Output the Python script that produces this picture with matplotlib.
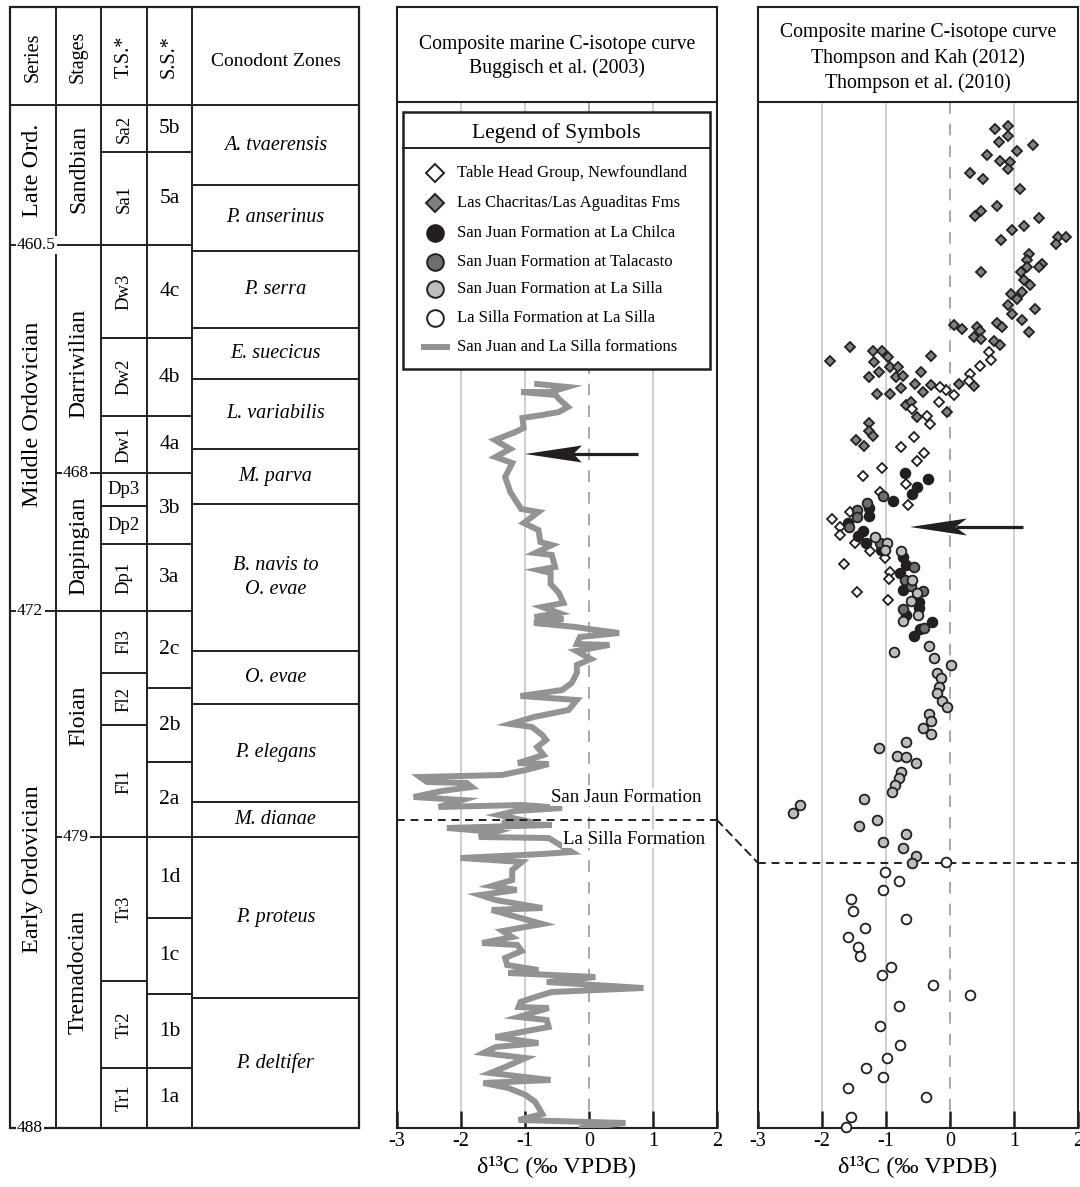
import matplotlib
matplotlib.use("Agg")
import matplotlib.pyplot as plt
from matplotlib.patches import Rectangle, Polygon, ConnectionPatch

plt.rcParams['font.family'] = ['Liberation Serif', 'DejaVu Serif']
plt.rcParams['axes.unicode_minus'] = False

# ---------------- data ----------------
# stratigraphic levels: 0 = top of table body, 1023 = base of the column
series = [("Late Ord.", 0, 140), ("Middle Ordovician", 140, 506), ("Early Ordovician", 506, 1023)]
stages = [("Sandbian", 0, 140), ("Darriwilian", 140, 368), ("Dapingian", 368, 506),
          ("Floian", 506, 732), ("Tremadocian", 732, 1023)]
time_slices = [("Sa2", 0, 47), ("Sa1", 47, 140), ("Dw3", 140, 233), ("Dw2", 233, 311),
               ("Dw1", 311, 368), ("Dp3", 368, 401), ("Dp2", 401, 439), ("Dp1", 439, 506),
               ("Fl3", 506, 568), ("Fl2", 568, 620), ("Fl1", 620, 732), ("Tr3", 732, 876),
               ("Tr2", 876, 963), ("Tr1", 963, 1023)]
stage_slices = [("5b", 0, 47), ("5a", 47, 140), ("4c", 140, 233), ("4b", 233, 311),
                ("4a", 311, 368), ("3b", 368, 439), ("3a", 439, 506), ("2c", 506, 583),
                ("2b", 583, 657), ("2a", 657, 732), ("1d", 732, 813), ("1c", 813, 889),
                ("1b", 889, 963), ("1a", 963, 1023)]
zones = [("A. tvaerensis", 0, 80), ("P. anserinus", 80, 146), ("P. serra", 146, 223),
         ("E. suecicus", 223, 274), ("L. variabilis", 274, 344), ("M. parva", 344, 399),
         ("B. navis to\nO. evae", 399, 546), ("O. evae", 546, 599), ("P. elegans", 599, 697),
         ("M. dianae", 697, 732), ("P. proteus", 732, 893), ("P. deltifer", 893, 1023)]
age_ticks = [460.5, 468, 472, 479, 488]
age_levels = [140, 368, 506, 732, 1023]
age_cols = [0, 1, 0, 1, 0]

# Buggisch et al. (2003) composite curve
curve_d13c = [-0.81, -0.34, -0.60, -1.06, -0.52, -0.47, -0.33, -0.47, -0.73, -1.04, -1.02, -1.15,
              -1.47, -1.23, -1.46, -1.20, -1.31, -1.23, -1.06, -0.79, -1.02, -0.79, -0.76, -0.58,
              -0.84, -0.58, -0.53, -0.79, -0.60, -0.60, -0.47, -0.40, -0.73, -0.47, -0.85, -0.40,
              -0.86, -0.21, 0.0, 0.47, -0.14, -0.19, 0.32, -0.20, 0.03, -0.19, -0.19, -0.27,
              -0.42, -1.07, -0.19, -0.32, -0.86, -1.23, -0.89, -0.73, -0.67, -0.81, -0.71, -1.11,
              -0.63, -0.99, -1.36, -2.64, -2.53, -1.91, -1.83, -2.30, -2.74, -1.98, -2.35, -1.05,
              -0.42, -1.15, -1.41, -1.05, -1.36, -0.58, -2.22, -1.46, -1.72, -0.63, -0.27, -0.73,
              -2.01, -1.05, -1.20, -1.20, -1.52, -1.13, -1.70, -1.46, -0.73, -1.52, -0.73, -1.35,
              -1.20, -1.67, -1.12, -1.05, -1.31, -1.28, -0.79, -1.26, 0.10, -0.66, 0.85, -0.58,
              -0.84, -1.07, -1.10, -0.63, -1.10, -0.66, -0.63, -0.97, -1.46, -0.79, -1.46, -1.65,
              -0.99, -1.31, -1.54, -0.60, -1.65, -1.26, -0.99, -0.84, -0.73, -1.10, 0.57, -0.11]
curve_level = [279, 282, 287, 287, 290, 294, 302, 307, 310, 313, 323, 327,
               335, 344, 352, 358, 372, 387, 404, 407, 418, 425, 437, 440,
               448, 450, 462, 465, 468, 479, 488, 498, 502, 508, 512, 514,
               518, 522, 524, 528, 532, 539, 540, 546, 554, 560, 568, 578,
               585, 591, 595, 605, 612, 619, 622, 630, 635, 642, 650, 658,
               659, 665, 670, 672, 677, 678, 682, 686, 692, 695, 702, 700,
               703, 706, 710, 715, 718, 720, 723, 727, 732, 733, 747, 749,
               753, 757, 765, 775, 781, 785, 790, 795, 803, 805, 819, 826,
               832, 838, 840, 846, 853, 860, 865, 868, 872, 877, 883, 887,
               892, 897, 902, 903, 912, 915, 922, 926, 932, 938, 942, 948,
               953, 962, 968, 975, 978, 983, 990, 997, 1009, 1015, 1018, 1023]

# Thompson and Kah (2012); Thompson et al. (2010)
lc_d13c = [0.70, 0.90, 0.77, 0.90, 1.04, 1.29, 0.58, 0.78, 0.94, 0.91, 0.32, 0.51, 1.10, 0.74,
           0.39, 0.48, 1.39, 0.97, 1.16, 0.79, 1.69, 1.82, 1.65, 1.23, 1.21, 1.44, 1.39, 1.11,
           1.20, 0.48, 1.16, 1.25, 1.13, 0.95, 1.05, 0.90, 0.97, 1.33, 1.12, 1.23, 0.07, 0.19,
           0.42, 0.47, 0.38, 0.48, 0.73, 0.82, 0.68, 0.78, -1.57, -1.88, -1.20, -1.06, -1.19,
           -0.97, -0.93, -0.81, -1.26, -1.11, -0.85, -0.74, -0.46, -0.30, -0.55, -0.30, -0.77,
           -0.94, -1.14, -0.42, 0.14, 0.38, -0.69, -0.61, -0.51, -0.05, -1.26, -1.27, -1.20,
           -1.47, -1.34]
lc_level = [24, 21, 37, 31, 46, 40, 50, 56, 57, 64, 68, 74, 84, 101,
            111, 106, 113, 125, 121, 135, 132, 132, 139, 149, 155, 159, 162, 167,
            162, 167, 175, 180, 187, 189, 194, 200, 209, 204, 215, 227, 220, 224,
            222, 226, 232, 234, 218, 222, 236, 240, 242, 256, 246, 246, 257,
            252, 262, 262, 272, 267, 272, 271, 267, 251, 279, 280, 283,
            289, 289, 287, 279, 281, 300, 297, 312, 307, 318, 326, 331,
            335, 341]
th_d13c = [0.61, 0.64, 0.47, 0.32, 0.30, 0.06, -0.07, -0.16, -0.17, -0.59, -0.36, -0.32, -0.56,
           -0.77, -0.40, -0.51, -1.06, -1.36, -0.69, -1.09, -0.66, -1.57, -1.85, -1.72, -1.72,
           -1.49, -1.25, -1.02, -1.65, -0.93, -0.96, -1.46, -0.97]
th_level = [247, 255, 261, 269, 276, 290, 285, 282, 297, 304, 311, 319, 332,
            342, 348, 356, 363, 371, 379, 387, 400, 407, 414, 422, 430,
            438, 446, 453, 459, 467, 474, 487, 495]
chilca_d13c = [-0.71, -0.34, -0.51, -0.60, -0.89, -1.27, -1.27, -1.59, -1.36, -1.44, -1.31,
               -1.08, -0.73, -0.69, -0.78, -0.73, -0.49, -0.48, -0.69, -0.28, -0.47, -0.56]
chilca_level = [368, 374, 382, 389, 396, 403, 411, 418, 426, 431, 438,
                445, 452, 460, 468, 485, 497, 503, 510, 517, 524, 531]
talacasto_d13c = [-1.04, -1.29, -1.46, -1.46, -1.58, -1.09, -0.57, -0.71, -0.61, -0.42, -0.73, -0.40]
talacasto_level = [391, 398, 405, 412, 422, 438, 462, 475, 481, 486, 504, 523]
sj_silla_d13c = [-1.17, -0.98, -1.02, -0.76, -0.60, -0.51, -0.61, -0.50, -0.73, -0.33, -0.88,
                 -0.25, 0.01, -0.21, -0.14, -0.17, -0.21, -0.12, -0.04, -0.33, -0.30, -0.42,
                 -0.30, -0.69, -1.11, -0.83, -0.69, -0.53, -0.76, -0.80, -0.86, -0.91, -1.34,
                 -2.34, -2.46, -1.14, -1.42, -0.69, -1.04, -0.73, -0.53, -0.60]
sj_silla_level = [432, 438, 445, 446, 475, 488, 496, 510, 516, 541, 547,
                  553, 560, 568, 573, 582, 588, 596, 602, 609, 616, 623,
                  629, 637, 643, 651, 652, 658, 667, 673, 680, 687, 694,
                  700, 708, 715, 721, 729, 737, 743, 751, 758]
ls_silla_d13c = [-0.06, -1.02, -0.80, -1.05, -1.54, -1.52, -0.69, -1.33, -1.59, -1.44, -1.41,
                 -0.92, -1.06, -0.27, 0.32, -0.79, -1.09, -0.78, -0.98, -1.32, -1.04, -1.59,
                 -0.38, -1.54, -1.63]
ls_silla_level = [757, 767, 776, 785, 794, 806, 814, 823, 832, 842, 851,
                  862, 870, 880, 890, 901, 921, 940, 953, 963, 972, 983,
                  992, 1012, 1022]

boundary_mid = 715     # San Juan / La Silla contact, Buggisch curve
boundary_right = 758   # same contact in the Thompson compilation

# ---------------- figure ----------------
W, H = 1080, 1187
fig = plt.figure(figsize=(W / 100, H / 100), dpi=100)
TOP, BASE, HEAD = -98, 1023, -3
INK = '#231f20'
C_CURVE = '#939393'
C_DIAM = '#808080'
C_DARK = '#6e6e6e'
C_LIGHT = '#bdbdbd'


def px_axes(x0, y0, x1, y1):
    return fig.add_axes([x0 / W, 1 - y1 / H, (x1 - x0) / W, (y1 - y0) / H])


# ---- stratigraphic table ----
ax_t = px_axes(10, 7, 359, 1128)
ax_t.set_xlim(0, 349)
ax_t.set_ylim(BASE, TOP)
ax_t.axis('off')
col_x = [0, 46, 91, 137, 182, 349]
LW = 1.4
ax_t.add_patch(Rectangle((0, TOP), 349, BASE - TOP, fill=False, lw=1.6, ec=INK, clip_on=False))
for x in col_x[1:-1]:
    ax_t.plot([x, x], [TOP, BASE], color=INK, lw=LW)
ax_t.plot([0, 349], [0, 0], color=INK, lw=LW)

headers = ["Series", "Stages", "T.S.*", "S.S.*"]
for i, h in enumerate(headers):
    ax_t.text((col_x[i] + col_x[i + 1]) / 2, -48, h, rotation=90, ha='center', va='center',
              fontsize=14.5)
ax_t.text((col_x[4] + col_x[5]) / 2, -43, "Conodont Zones", ha='center', va='center', fontsize=14)


def draw_column(units, c, size, style='normal', rotate=True, shift=None):
    x0, x1 = col_x[c], col_x[c + 1]
    for i, (name, top, bot) in enumerate(units):
        ax_t.plot([x0, x1], [bot, bot], color=INK, lw=LW)
        rot = 90 if rotate and (bot - top) > 45 else 0
        dy = shift[i] if shift else 0
        ax_t.text((x0 + x1) / 2, (top + bot) / 2 + dy, name, rotation=rot, ha='center',
                  va='center', fontsize=size, fontstyle=style, linespacing=1.35)


draw_column(series, 0, 17.5, shift=[-5, -14, 0])
draw_column(stages, 1, 17, shift=[-6, 4, 4, -8, -10])
draw_column(time_slices, 2, 13.5)
draw_column(stage_slices, 3, 15.5, rotate=False)
draw_column(zones, 4, 14.5, style='italic', rotate=False)

for age, lvl, c in zip(age_ticks, age_levels, age_cols):
    ax_t.text(col_x[c] + 7, lvl, f"{age:g}", ha='left', va='center', fontsize=12.5, zorder=5,
              bbox=dict(fc='white', ec='none', pad=1.0))


# ---- isotope panels ----
def style_panel(ax):
    ax.set_xlim(-3, 2)
    ax.set_ylim(BASE, TOP)
    ax.set_yticks([])
    ax.set_xticks([-3, -2, -1, 0, 1, 2])
    ax.tick_params(axis='x', direction='in', length=12, width=1.8, labelsize=14.5, pad=3,
                   color=INK)
    for s in ax.spines.values():
        s.set_linewidth(1.5)
        s.set_color(INK)
    ax.vlines([-2, -1, 1], HEAD, BASE, color='#c6c6c6', lw=1.2, zorder=1)
    ax.vlines([0], HEAD, BASE, color='#9a9a9a', lw=1.2, linestyles=(0, (7, 6)), zorder=1)
    ax.axhline(HEAD, color=INK, lw=1.5)
    ax.set_xlabel('δ¹³C (‰ VPDB)', fontsize=17.5, labelpad=3)


def draw_arrow(ax, tip_x, tip_lvl, tail_x, notch=0.82):
    head_len, half_w = 0.89, 8.5
    ax.plot([tip_x + head_len * 0.8, tail_x], [tip_lvl, tip_lvl], color=INK, lw=2.3,
            solid_capstyle='butt', zorder=7)
    ax.add_patch(Polygon([(tip_x, tip_lvl), (tip_x + head_len, tip_lvl - half_w),
                          (tip_x + notch * head_len, tip_lvl), (tip_x + head_len, tip_lvl + half_w)],
                         closed=True, fc=INK, ec='none', zorder=7))


# middle panel: Buggisch et al. (2003)
ax_m = px_axes(397, 7, 717, 1128)
style_panel(ax_m)
ax_m.text(-0.5, -60, "Composite marine C-isotope curve", ha='center', va='center', fontsize=14.2)
ax_m.text(-0.5, -37, "Buggisch et al. (2003)", ha='center', va='center', fontsize=14.2)
ax_m.plot(curve_d13c, curve_level, color=C_CURVE, lw=4.3, solid_joinstyle='miter', zorder=3)
ax_m.plot([-3, 2], [boundary_mid, boundary_mid], color=INK, lw=1.4, ls=(0, (4, 3)), zorder=4)
ax_m.text(0.58, 692, "San Jaun Formation", ha='center', va='center', fontsize=13.5, zorder=5,
          bbox=dict(fc='white', ec='none', pad=0.5))
ax_m.text(0.70, 734, "La Silla Formation", ha='center', va='center', fontsize=13.5, zorder=5,
          bbox=dict(fc='white', ec='none', pad=0.5))
draw_arrow(ax_m, -1.0, 349, 0.77, notch=0.85)

# legend of symbols
lg_x0, lg_x1, lg_top, lg_bot = -2.906, 1.891, 7, 264
ax_m.add_patch(Rectangle((lg_x0, lg_top), lg_x1 - lg_x0, lg_bot - lg_top, fc='white', ec=INK,
                         lw=1.8, zorder=6))
ax_m.plot([lg_x0, lg_x1], [43, 43], color=INK, lw=1.4, zorder=7)
ax_m.text((lg_x0 + lg_x1) / 2, 28, "Legend of Symbols", ha='center', va='center',
          fontsize=15.5, zorder=7)
legend_labels = ["Table Head Group, Newfoundland", "Las Chacritas/Las Aguaditas Fms",
                 "San Juan Formation at La Chilca", "San Juan Formation at Talacasto",
                 "San Juan Formation at La Silla", "La Silla Formation at La Silla",
                 "San Juan and La Silla formations"]
legend_marker = ['D', 'D', 'o', 'o', 'o', 'o', None]
legend_fill = ['white', C_DIAM, INK, C_DARK, C_LIGHT, 'white', None]
legend_rows = [68, 98, 128, 157, 184, 213, 242]
for lab, mk, fc, row in zip(legend_labels, legend_marker, legend_fill, legend_rows):
    if mk is None:
        ax_m.plot([-2.62, -2.17], [row, row], color=C_CURVE, lw=4.3, solid_capstyle='butt',
                  zorder=7)
    else:
        ax_m.plot([-2.406], [row], marker=mk, ms=9.0 if mk == 'D' else 12, mfc=fc, mec=INK,
                  mew=1.4, ls='none', zorder=7)
    ax_m.text(-2.06, row, lab, ha='left', va='center', fontsize=12, zorder=7)

# right panel: Thompson and Kah (2012), Thompson et al. (2010)
ax_r = px_axes(758, 7, 1078, 1128)
style_panel(ax_r)
ax_r.text(-0.5, -73, "Composite marine C-isotope curve", ha='center', va='center', fontsize=14.2)
ax_r.text(-0.5, -47, "Thompson and Kah (2012)", ha='center', va='center', fontsize=14.2)
ax_r.text(-0.5, -22, "Thompson et al. (2010)", ha='center', va='center', fontsize=14.2)
ax_r.plot([-3, 2], [boundary_right, boundary_right], color=INK, lw=1.4, ls=(0, (4, 3)), zorder=2)

scatter_sets = [
    (lc_d13c, lc_level, 'D', C_DIAM, 5.3),
    (th_d13c, th_level, 'D', 'white', 5.3),
    (chilca_d13c, chilca_level, 'o', INK, 7),
    (talacasto_d13c, talacasto_level, 'o', C_DARK, 7),
    (sj_silla_d13c, sj_silla_level, 'o', C_LIGHT, 7),
    (ls_silla_d13c, ls_silla_level, 'o', 'white', 7),
]
for xs, ys, mk, fc, ms in scatter_sets:
    ax_r.plot(xs, ys, marker=mk, ms=ms, mfc=fc, mec=INK, mew=1.3, ls='none', zorder=4,
              clip_on=False)
draw_arrow(ax_r, -0.625, 422, 1.14, notch=0.8)

con = ConnectionPatch(xyA=(2, boundary_mid), coordsA='data', axesA=ax_m,
                      xyB=(-3, boundary_right), coordsB='data', axesB=ax_r,
                      color=INK, lw=1.4, ls=(0, (4, 3)))
fig.add_artist(con)

fig.savefig("out.png", dpi=100)
